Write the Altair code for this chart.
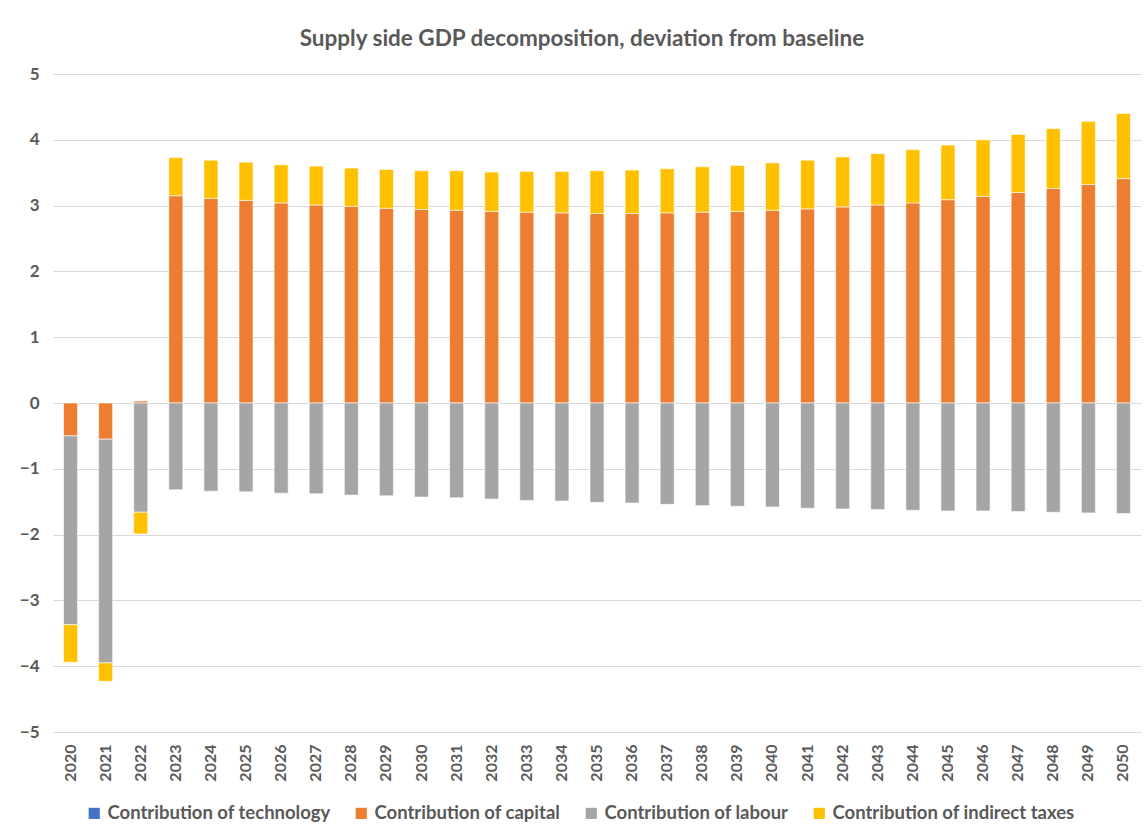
import altair as alt
import pandas as pd

years = [str(y) for y in range(2020, 2051)]
series_names = ["Contribution of technology", "Contribution of capital",
                "Contribution of labour", "Contribution of indirect taxes"]
technology = [0.0] * 31
capital = [-0.50, -0.55, 0.03, 3.15, 3.11, 3.08, 3.04, 3.01, 2.99, 2.96, 2.94,
           2.93, 2.91, 2.90, 2.89, 2.88, 2.88, 2.89, 2.90, 2.91, 2.93, 2.95,
           2.98, 3.01, 3.04, 3.09, 3.14, 3.20, 3.26, 3.32, 3.41]
labour = [-2.87, -3.40, -1.66, -1.32, -1.34, -1.35, -1.37, -1.38, -1.40, -1.41,
          -1.43, -1.44, -1.46, -1.48, -1.49, -1.51, -1.52, -1.54, -1.56, -1.57,
          -1.58, -1.60, -1.61, -1.62, -1.63, -1.64, -1.64, -1.65, -1.66, -1.67, -1.68]
taxes = [-0.57, -0.28, -0.33, 0.58, 0.58, 0.58, 0.58, 0.59, 0.58, 0.59, 0.59,
         0.60, 0.60, 0.62, 0.63, 0.65, 0.66, 0.67, 0.69, 0.70, 0.72, 0.74,
         0.76, 0.78, 0.81, 0.83, 0.86, 0.88, 0.91, 0.96, 0.99]
colors = ["#4472C4", "#ED7D31", "#A5A5A5", "#FFC000"]
y_ticks = [-5, -4, -3, -2, -1, 0, 1, 2, 3, 4, 5]

rows = []
for k, vals in enumerate([technology, capital, labour, taxes]):
    for yr, v in zip(years, vals):
        rows.append({"year": yr, "series": series_names[k], "value": v, "ord": k})
df = pd.DataFrame(rows)

FONT = "Lato"
GREY = "#595959"

chart = alt.Chart(df).mark_bar(stroke="white", strokeWidth=0.6).encode(
    x=alt.X("year:N", sort=years, title=None,
            scale=alt.Scale(paddingInner=0.6, paddingOuter=0.3),
            axis=alt.Axis(labelAngle=270, labelAlign="right", labelBaseline="middle",
                          labelFont=FONT, labelFontSize=16, labelFontWeight="bold",
                          labelColor=GREY, labelPadding=12, ticks=False, domain=False,
                          grid=False)),
    y=alt.Y("value:Q", stack="zero", title=None,
            scale=alt.Scale(domain=[-5, 5], nice=False),
            axis=alt.Axis(values=y_ticks, format="d", labelFont=FONT, labelFontSize=17,
                          labelFontWeight="bold", labelColor=GREY, labelPadding=14,
                          ticks=False, domain=False, gridColor="#D9D9D9",
                          gridWidth=1.2)),
    color=alt.Color("series:N", sort=series_names,
                    scale=alt.Scale(domain=series_names, range=colors),
                    legend=alt.Legend(title=None, orient="none", direction="horizontal",
                                      legendX=32, legendY=730, symbolType="square",
                                      symbolSize=125, symbolStrokeWidth=0,
                                      labelFont=FONT, labelFontSize=18.5,
                                      labelFontWeight="bold", labelColor=GREY,
                                      labelOffset=4, columnPadding=21, labelLimit=400)),
    order=alt.Order("ord:Q", sort="ascending"),
).properties(
    width=1088, height=658,
    title=alt.TitleParams("Supply side GDP decomposition, deviation from baseline",
                          font=FONT, fontSize=22.5, fontWeight="bold", color=GREY,
                          anchor="middle", offset=15, dx=-15),
    autosize=alt.AutoSizeParams(type="none"),
    padding={"left": 53, "top": 74, "right": 5, "bottom": 102},
    background="white",
).configure_view(stroke=None)

chart.save("out.html", embed_options={"renderer": "svg", "actions": False})
